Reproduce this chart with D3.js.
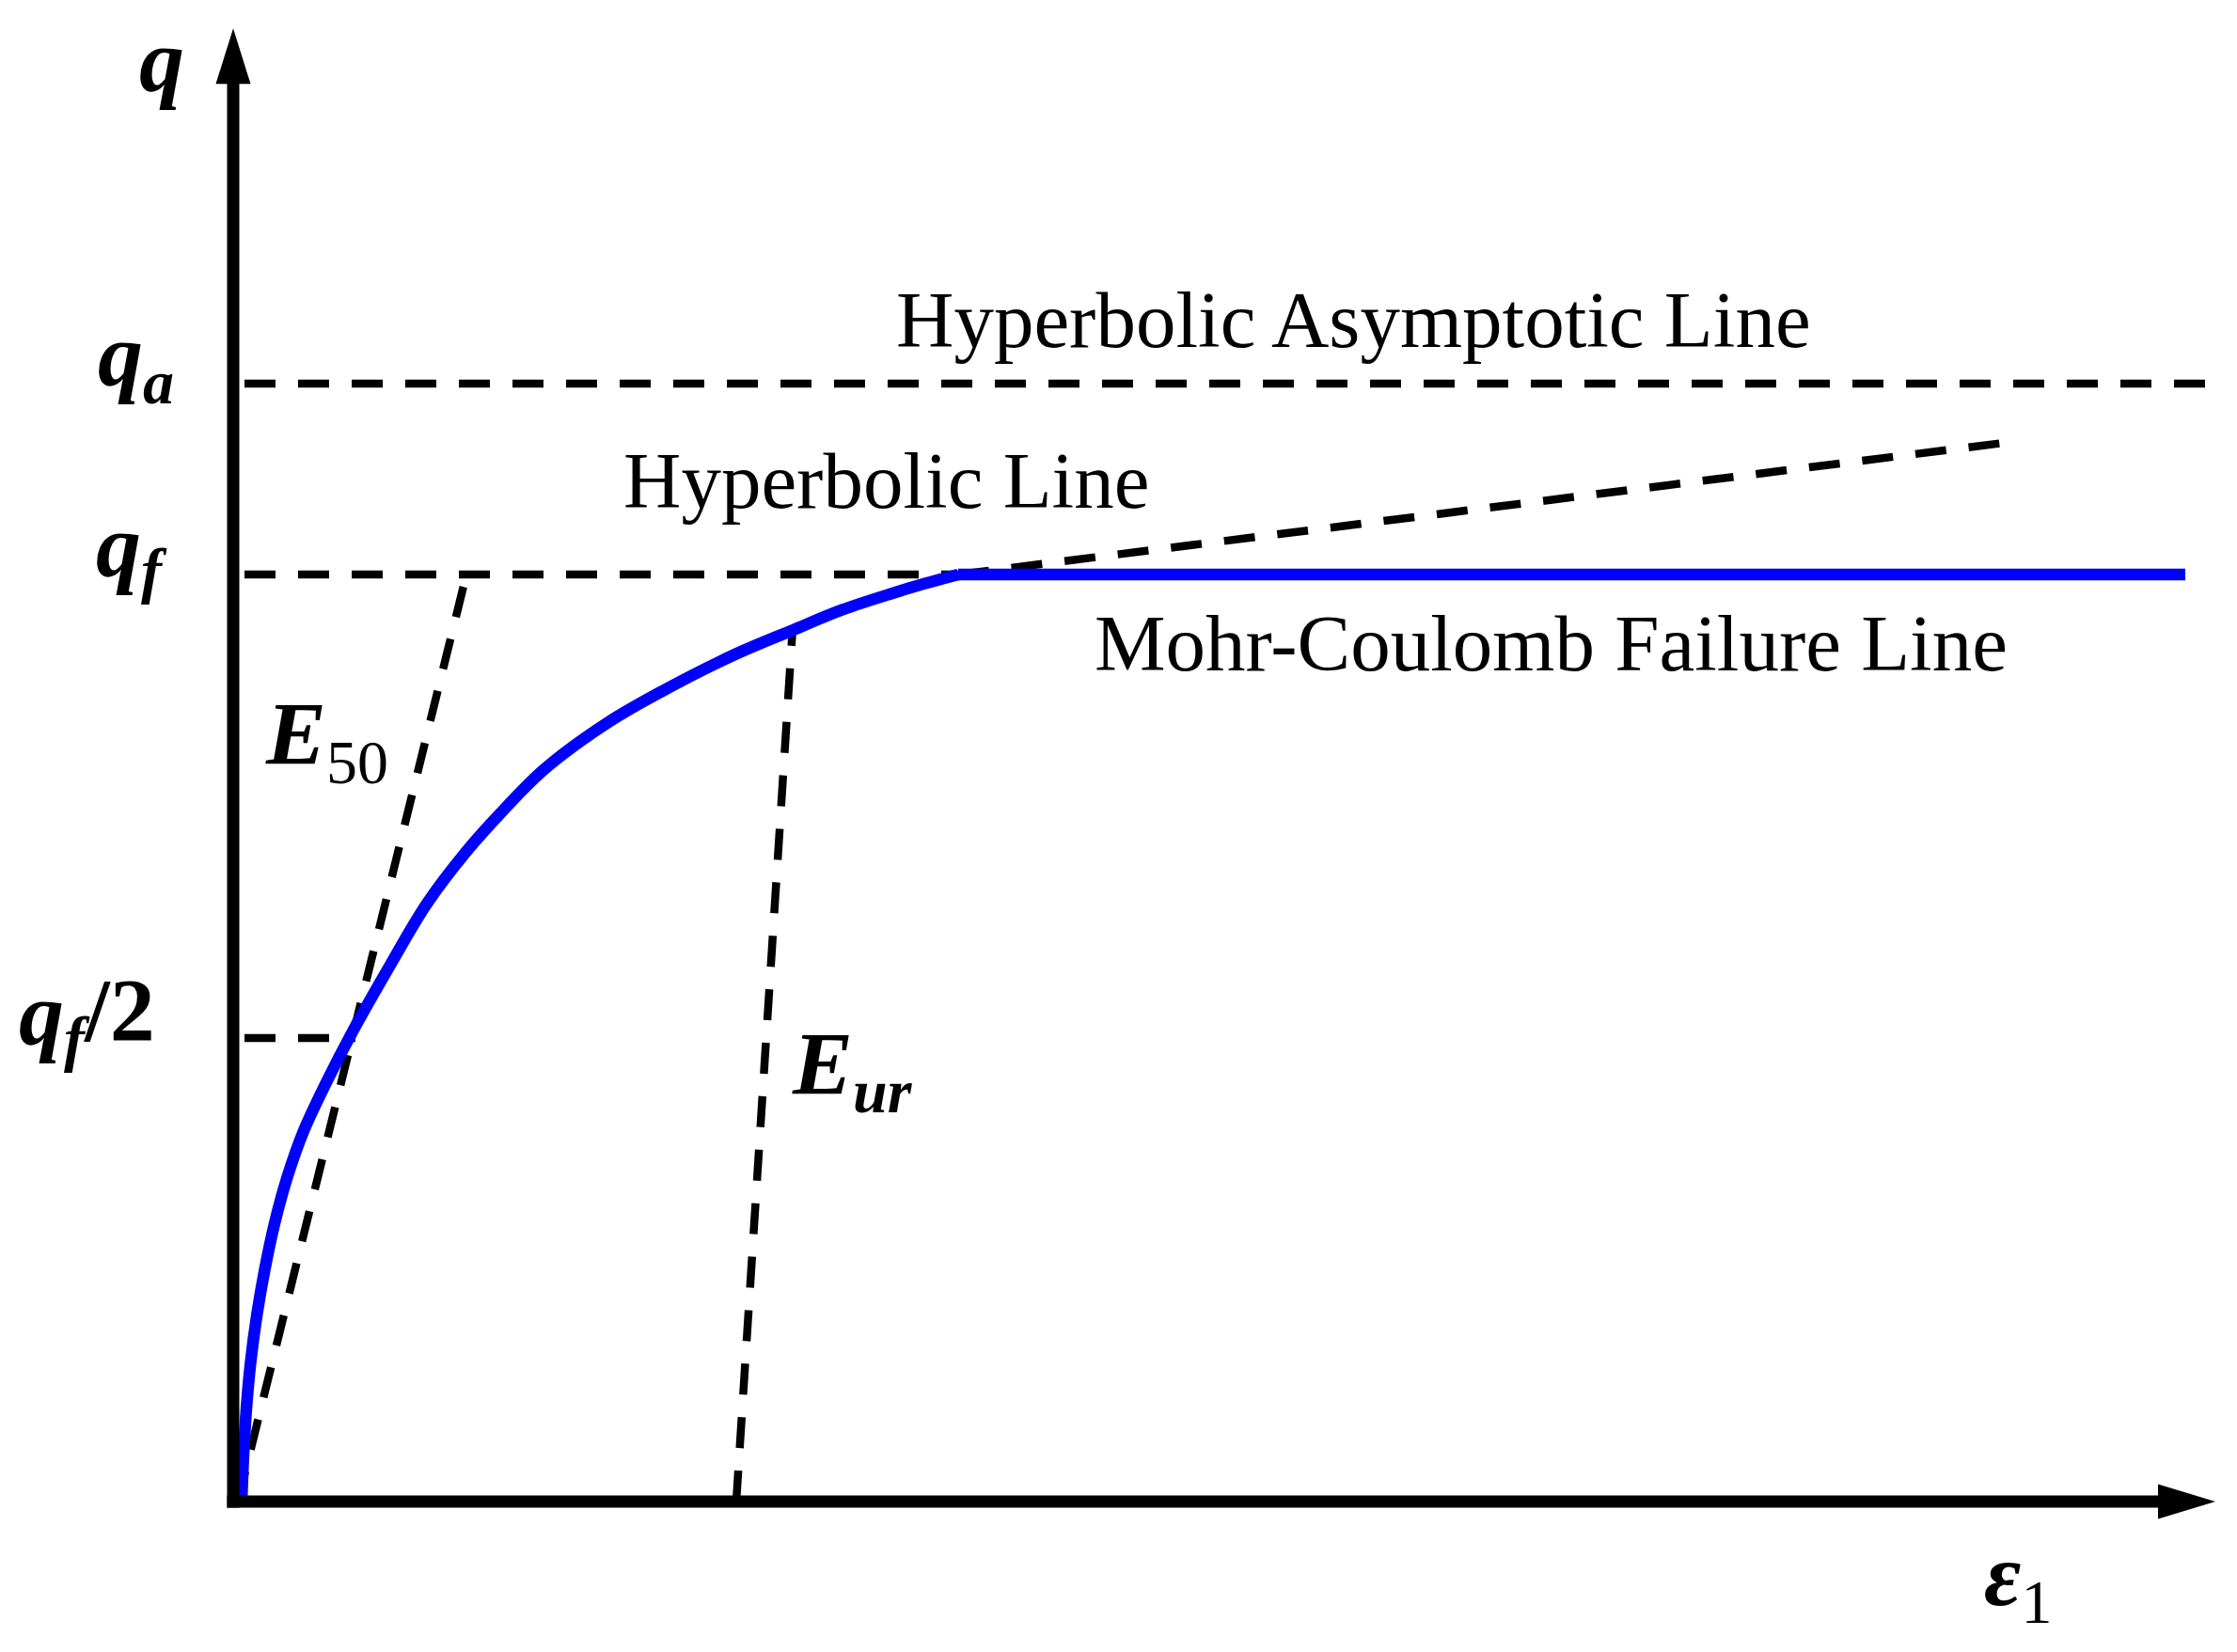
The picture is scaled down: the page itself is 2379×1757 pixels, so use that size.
<!DOCTYPE html>
<html>
<head>
<meta charset="utf-8">
<script src="https://cdn.jsdelivr.net/npm/d3@7"></script>
<style>
  html, body { margin: 0; padding: 0; background: #fff; }
  text { font-family: "Liberation Serif", "Times New Roman", serif; fill: #000; }
</style>
</head>
<body>
<svg id="chart" width="2379" height="1757"></svg>
<script>
// stress-strain curve (strain eps1, deviator stress q / qf)
var curveX = [0.09, 0.11, 0.14, 0.185, 0.25, 0.335, 0.44, 0.575, 0.75, 0.98, 1.28, 1.66, 2.06, 2.47, 2.82, 3.31, 3.98, 4.56, 5.32, 5.95, 6.48, 7.02, 7.35, 7.71];
var curveQ = [0.00, 0.05, 0.10, 0.15, 0.20, 0.25, 0.30, 0.35, 0.40, 0.45, 0.509, 0.577, 0.645, 0.700, 0.740, 0.790, 0.840, 0.874, 0.913, 0.940, 0.962, 0.980, 0.990, 1.00];

// Mohr-Coulomb failure line (flat at qf)
var mcX = [7.71, 20.76];
var mcQ = [1.0, 1.0];

// dashed guide lines
var hypX = [7.71, 18.91];   // hyperbolic continuation
var hypQ = [1.0, 1.143];
var e50X = [0.05, 2.48];    // secant modulus E50
var e50Q = [0, 1.0];
var eurX = [5.35, 5.95];    // unload-reload modulus Eur
var eurQ = [0, 0.943];

// horizontal levels
var qf = 1.0;
var qa = 1.206;
var levelStart = 0.12;
var levelEnds = { qa: 21.0, qf: 7.71, half: 1.30 };

var xMax = 21.08, qMax = 1.589;

var svg = d3.select("#chart");
svg.append("rect").attr("width", 2379).attr("height", 1757).attr("fill", "#fff");

var x = d3.scaleLinear().domain([0, xMax]).range([248, 2356]);
var y = d3.scaleLinear().domain([0, 1]).range([1597, 611]);

var line = d3.line()
      .x(function(d) { return x(d[0]); })
      .y(function(d) { return y(d[1]); });

var dash = "33,24";

function dashed(xs, qs) {
      svg.append("path")
            .attr("d", line(d3.zip(xs, qs)))
            .attr("fill", "none")
            .attr("stroke", "#000")
            .attr("stroke-width", 8.5)
            .attr("stroke-dasharray", dash);
}

// level lines qa, qf, qf/2
dashed([levelStart, levelEnds.qa], [qa, qa]);
dashed([levelStart, levelEnds.qf], [qf, qf]);
dashed([levelStart, levelEnds.half], [qf / 2, qf / 2]);

// modulus lines and hyperbola continuation
dashed(e50X, e50Q);
dashed(eurX, eurQ);
dashed(hypX, hypQ);

// blue curve + failure line
var smooth = d3.line()
      .x(function(d) { return x(d[0]); })
      .y(function(d) { return y(d[1]); })
      .curve(d3.curveCatmullRom.alpha(0.5));
svg.append("path")
      .attr("d", smooth(d3.zip(curveX, curveQ)))
      .attr("fill", "none")
      .attr("stroke", "#0000ff")
      .attr("stroke-width", 12.5);
svg.append("path")
      .attr("d", line(d3.zip(mcX, mcQ)))
      .attr("fill", "none")
      .attr("stroke", "#0000ff")
      .attr("stroke-width", 12.5);

// axes with arrow heads
var x0 = x(0), y0 = y(0);
var yTop = y(qMax), xEnd = x(xMax);
svg.append("line")
      .attr("x1", x0).attr("y1", y0 + 6.5)
      .attr("x2", x0).attr("y2", yTop + 58)
      .attr("stroke", "#000").attr("stroke-width", 13);
svg.append("line")
      .attr("x1", x0 - 6.5).attr("y1", y0)
      .attr("x2", xEnd - 60).attr("y2", y0)
      .attr("stroke", "#000").attr("stroke-width", 13);
svg.append("path")
      .attr("d", "M" + x0 + "," + yTop + "L" + (x0 + 18.5) + "," + (yTop + 59) + "L" + (x0 - 18.5) + "," + (yTop + 59) + "Z")
      .attr("fill", "#000");
svg.append("path")
      .attr("d", "M" + xEnd + "," + y0 + "L" + (xEnd - 61) + "," + (y0 - 18.5) + "L" + (xEnd - 61) + "," + (y0 + 18.5) + "Z")
      .attr("fill", "#000");

// math labels: main part bold italic, subscripts smaller
function mathLabel(px, py, parts) {
      var t = svg.append("text").attr("x", px).attr("y", py);
      parts.forEach(function(p) {
            t.append("tspan")
                  .attr("font-size", p.size || 96)
                  .attr("font-weight", p.bold === false ? "normal" : "bold")
                  .attr("font-style", p.italic === false ? "normal" : "italic")
                  .attr("dy", p.dy || 0)
                  .text(p.t);
      });
}

mathLabel(148, y(qMax) + 67, [{t: "q"}]);
mathLabel(104, y(qa) + 2, [{t: "q"}, {t: "a", size: 66, dy: 19}]);
mathLabel(102, y(qf) + 2, [{t: "q"}, {t: "f", size: 66, dy: 16}]);
mathLabel(20, y(qf / 2) + 7, [{t: "q"}, {t: "f", size: 66, dy: 16}, {t: "/2", italic: false, dy: -20}]);
mathLabel(283, 813, [{t: "E"}, {t: "50", size: 66, bold: false, italic: false, dy: 20}]);
mathLabel(843, 1164, [{t: "E"}, {t: "ur", size: 66, dy: 19}]);
mathLabel(2110, y0 + 110, [{t: "\u03b5"}, {t: "1", size: 66, bold: false, italic: false, dy: 19}]);

// line names
var names = [
      {t: "Hyperbolic Asymptotic Line", x: 953, y: 369},
      {t: "Hyperbolic Line", x: 663, y: 540},
      {t: "Mohr-Coulomb Failure Line", x: 1164, y: 713}
];
svg.selectAll("text.name")
      .data(names)
      .enter()
      .append("text")
      .attr("class", "name")
      .attr("x", function(d) { return d.x; })
      .attr("y", function(d) { return d.y; })
      .attr("font-size", 85)
      .text(function(d) { return d.t; });
</script>
</body>
</html>
